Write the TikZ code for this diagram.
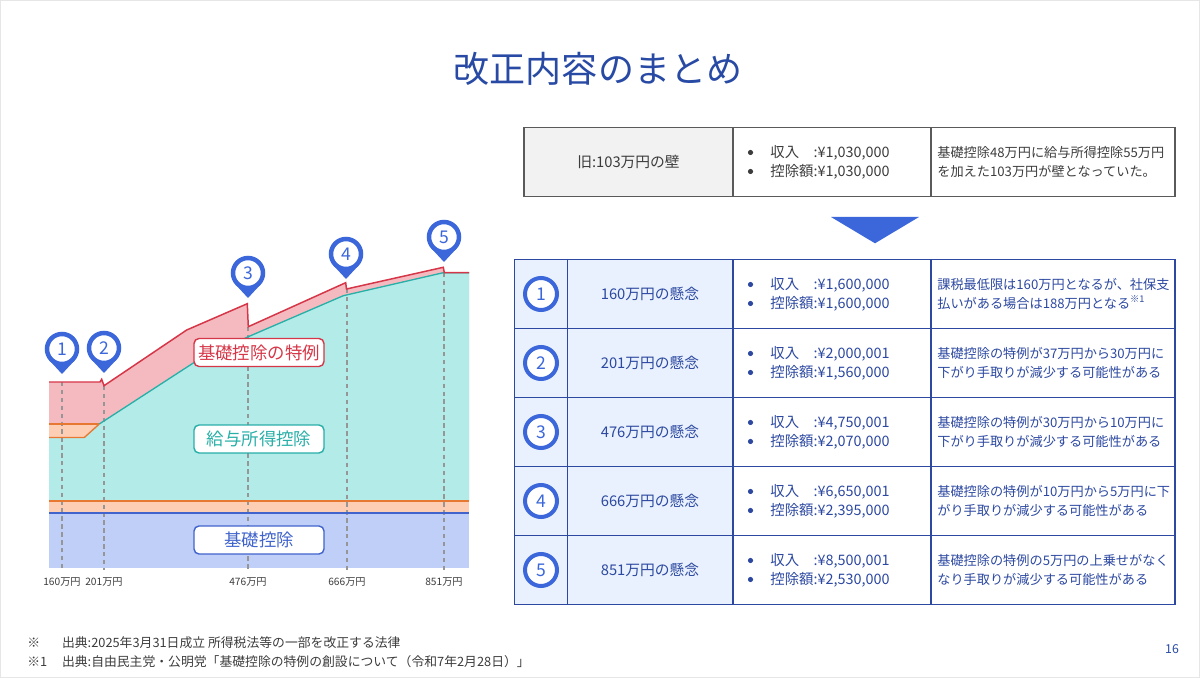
\documentclass[tikz,border=0pt]{standalone}
\usepackage{fontspec}
\setmainfont{Noto Sans CJK JP}
\usepackage{tikz}
\tikzset{>=latex}
\usetikzlibrary{calc}
\definecolor{tblue}{RGB}{40, 74, 164}
\definecolor{pblue}{RGB}{59, 103, 219}
\definecolor{lblue}{RGB}{44, 72, 160}
\definecolor{cblue}{RGB}{232, 241, 253}
\definecolor{ogray}{RGB}{90, 90, 90}
\definecolor{ofill}{RGB}{242, 242, 242}
\definecolor{otext}{RGB}{60, 60, 60}
\definecolor{rline}{RGB}{214, 55, 72}
\definecolor{rfill}{RGB}{244, 186, 192}
\definecolor{gline}{RGB}{40, 175, 168}
\definecolor{gfill}{RGB}{178, 235, 232}
\definecolor{aline}{RGB}{230, 120, 50}
\definecolor{afill}{RGB}{253, 206, 180}
\definecolor{bline}{RGB}{64, 100, 204}
\definecolor{bfill}{RGB}{191, 207, 247}
\definecolor{dgray}{RGB}{150, 150, 150}
\definecolor{framegray}{RGB}{230, 230, 230}

\begin{document}
\begin{tikzpicture}[x=0.02cm, y=-0.02cm,
    label/.style={rounded corners=0.1cm, fill=white, line width=0.8pt, minimum width=2.6cm, minimum height=0.56cm, inner sep=0pt, font=\fontsize{9.9}{11}\selectfont},
    marker/.style={circle, draw=pblue, fill=white, line width=0.09cm, minimum size=0.6cm, inner sep=0pt, text=pblue, font=\fontsize{10}{12}\selectfont},
    num/.style={circle, draw=pblue, fill=white, line width=0.08cm, minimum size=0.64cm, inner sep=0pt, text=pblue, font=\fontsize{10}{12}\selectfont},
    tick/.style={text=otext, inner sep=0pt, font=\fontsize{5.8}{7}\selectfont},
    guide/.style={dgray, line width=0.6pt, dash pattern=on 2.5pt off 2pt},
    head/.style={inner sep=0pt, font=\fontsize{8.4}{10}\selectfont},
    amount/.style={anchor=west, align=left, inner sep=0pt, font=\fontsize{8.2}{10.9}\selectfont},
    memo/.style={anchor=west, align=left, inner sep=0pt, font=\fontsize{7.5}{10.5}\selectfont},
    foot/.style={anchor=west, inner sep=0pt, text=otext, font=\fontsize{7.3}{9}\selectfont}
  ]

  \useasboundingbox (0,0) rectangle (1200,678);
  \draw[framegray, line width=0.03cm] (0.75,0.75) rectangle (1199.25,677.25);

  \node[text=tblue, inner sep=0pt, font=\fontsize{20.5}{24}\selectfont] (title) at (598,69) {改正内容のまとめ};

  % chart
  \def\redtop{(49,382) -- (100,382) -- (101.7,379.3) -- (104,385.7) -- (186.7,330) -- (247.3,303.7) -- (248.3,326.7) -- (345.7,282.7) -- (346.5,289) -- (443.3,267.3) -- (444.3,272.7) -- (469,272.7)}
  \def\tealtop{(99.3,424) -- (193.3,363) -- (248.3,336.7) -- (343.3,295.7) -- (443.3,272.7) -- (469,272.7)}

  \fill[rfill] \redtop -- (469,501) -- (49,501) -- cycle;
  \fill[gfill] (49,437.5) -- (84.3,437.5) -- \tealtop -- (469,501) -- (49,501) -- cycle;
  \fill[afill] (49,424) -- (99.3,424) -- (84.3,437.5) -- (49,437.5) -- cycle;
  \fill[afill] (49,501) rectangle (469,513);
  \fill[bfill] (49,513) rectangle (469,568);

  \foreach \px/\py in {62/382, 104/386, 248/327, 347/289, 444/273}
    \draw[guide] (\px,\py) -- (\px,570);

  \draw[gline, line width=0.75pt] \tealtop;
  \draw[aline, line width=0.75pt] (49,424) -- (99.3,424);
  \draw[aline, line width=0.75pt] (49,437.5) -- (84.3,437.5) -- (99.3,424);
  \draw[aline, line width=0.75pt] (49,501) -- (469,501);
  \draw[bline, line width=0.85pt] (49,513) -- (469,513);
  \draw[rline, line width=0.85pt] \redtop;

  \node[label, draw=rline, text=rline] (tokurei) at (259,352.5) {基礎控除の特例};
  \node[label, draw=gline, text=gline] (kyuyo) at (259,439) {給与所得控除};
  \node[label, draw=bline, text=bline] (kiso) at (259,540) {基礎控除};

  \foreach \px/\v in {62/160, 104/201, 248/476, 347/666, 444/851}
    \node[tick] (x\v) at (\px,581.5) {\v{}万円};

  \foreach \n/\px/\py in {1/62/349, 2/104/348, 3/248/273, 4/346/254, 5/444/237} {
    \fill[pblue] (\px-12.4,\py+11.6) -- (\px,\py+25) -- (\px+12.4,\py+11.6) -- cycle;
    \node[marker] (m\n) at (\px,\py) {\n};
  }

  % old table
  \fill[ofill] (524,127.5) rectangle (733,196.5);
  \draw[ogray, line width=0.8pt] (524,127.5) rectangle (1175,196.5);
  \foreach \x in {733,931}
    \draw[ogray, line width=0.8pt] (\x,127.5) -- (\x,196.5);
  \node[head, text=otext] (old) at (628.5,162) {旧:103万円の壁};
  \fill[otext] (750.5,152.5) circle (2.6) (750.5,171.5) circle (2.6);
  \node[amount, text=otext] (olda) at (770,162) {収入　:¥1,030,000\\控除額:¥1,030,000};
  \node[memo, text=otext] (oldd) at (937,162) {基礎控除48万円に給与所得控除55万円\\を加えた103万円が壁となっていた。};

  \fill[pblue] (831,217) -- (919,217) -- (875,243.3) -- cycle;

  % new table
  \fill[cblue] (514.5,259.5) rectangle (733,604.5);
  \foreach \i/\amt/\inc/\ded/\note in {
      1/160/{1,600,000}/{1,600,000}/{課税最低限は160万円となるが、社保支\\払いがある場合は188万円となる\textsuperscript{※1}},
      2/201/{2,000,001}/{1,560,000}/{基礎控除の特例が37万円から30万円に\\下がり手取りが減少する可能性がある},
      3/476/{4,750,001}/{2,070,000}/{基礎控除の特例が30万円から10万円に\\下がり手取りが減少する可能性がある},
      4/666/{6,650,001}/{2,395,000}/{基礎控除の特例が10万円から5万円に下\\がり手取りが減少する可能性がある},
      5/851/{8,500,001}/{2,530,000}/{基礎控除の特例の5万円の上乗せがなく\\なり手取りが減少する可能性がある}} {
    \pgfmathsetmacro\yc{259.5+69*(\i-1)+34.5}
    \node[num] (n\i) at (541,\yc) {\i};
    \node[head, text=lblue] (k\i) at (650,\yc) {\amt{}万円の懸念};
    \fill[lblue] (750.5,\yc-9.5) circle (2.6) (750.5,\yc+9.5) circle (2.6);
    \node[amount, text=lblue] (a\i) at (770,\yc) {収入　:¥\inc\\控除額:¥\ded};
    \node[memo, text=lblue] (d\i) at (937,\yc) {\note};
  }
  \draw[lblue, line width=1pt] (514.5,259.5) rectangle (1175,604.5);
  \foreach \y in {328.5,397.5,466.5,535.5}
    \draw[lblue, line width=1pt] (514.5,\y) -- (1175,\y);
  \foreach \x in {567.5,733,931}
    \draw[lblue, line width=1pt] (\x,259.5) -- (\x,604.5);

  % notes
  \node[foot] (f1a) at (27,643) {※};
  \node[foot] (f1b) at (61.7,643) {出典:2025年3月31日成立 所得税法等の一部を改正する法律};
  \node[foot] (f2a) at (27,662) {※1};
  \node[foot] (f2b) at (61.7,662) {出典:自由民主党・公明党「基礎控除の特例の創設について（令和7年2月28日）」};
  \node[inner sep=0pt, text=tblue, font=\fontsize{7}{8}\selectfont] (page) at (1172,649) {16};

\end{tikzpicture}
\end{document}
